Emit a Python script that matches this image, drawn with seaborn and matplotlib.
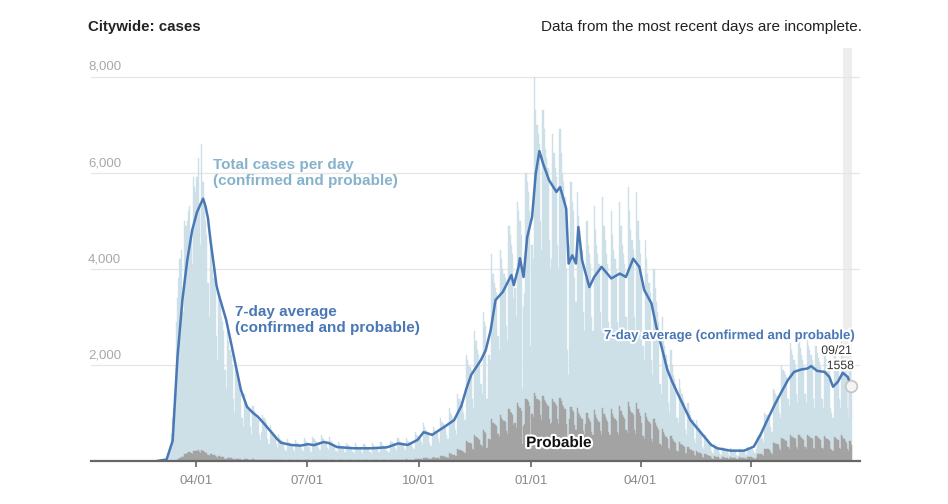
import pandas as pd
import seaborn as sns
import matplotlib
matplotlib.use("Agg")
from matplotlib import pyplot as plt
import matplotlib.dates as mdates
import matplotlib.patheffects as pe

# daily cases (confirmed + probable), one row per week, first day 2020-02-29 (Sat)
first_day = "2020-02-29"
total_cases = [
    1, 0, 1, 2, 4, 6, 12,
    25, 30, 90, 180, 330, 560, 900,
    1100, 1400, 2900, 3400, 3800, 4200, 4400,
    3500, 3100, 5000, 4900, 5000, 5200, 5300,
    4600, 4100, 5900, 5700, 5600, 5900, 6300,
    5300, 4500, 6600, 5800, 5300, 5000, 4700,
    3700, 3000, 4700, 4400, 4000, 3800, 3600,
    2600, 2100, 3500, 3300, 3000, 2900, 2700,
    1900, 1500, 2700, 2500, 2300, 2200, 2000,
    1300, 1000, 2000, 1800, 1600, 1500, 1400,
    900, 700, 1400, 1250, 1150, 1100, 1050,
    700, 550, 1150, 1050, 950, 900, 850,
    550, 430, 600, 950, 900, 850, 800,
    450, 350, 750, 650, 600, 580, 550,
    350, 280, 550, 470, 430, 420, 400,
    260, 200, 450, 400, 370, 360, 340,
    230, 180, 430, 380, 350, 340, 320,
    250, 200, 480, 420, 400, 380, 300,
    180, 180, 500, 450, 420, 400, 380,
    280, 230, 550, 480, 450, 420, 400,
    270, 220, 500, 420, 380, 360, 340,
    200, 170, 400, 350, 320, 300, 290,
    190, 160, 380, 330, 300, 290, 280,
    180, 150, 370, 320, 300, 280, 270,
    180, 150, 360, 320, 290, 280, 270,
    180, 150, 370, 330, 300, 290, 280,
    190, 160, 390, 340, 310, 300, 290,
    200, 170, 180, 420, 400, 380, 360,
    250, 210, 480, 420, 400, 380, 370,
    240, 200, 470, 420, 390, 380, 370,
    300, 260, 600, 550, 520, 500, 480,
    400, 330, 800, 700, 650, 600, 550,
    380, 320, 550, 700, 650, 600, 580,
    450, 380, 900, 820, 780, 750, 720,
    550, 450, 1100, 1000, 950, 900, 870,
    650, 550, 1400, 1300, 1250, 1200, 1150,
    1000, 850, 2200, 2100, 2000, 1950, 1900,
    1300, 1100, 2700, 2500, 2300, 2200, 2100,
    1600, 1400, 3100, 2900, 2800, 1300, 2200,
    2200, 2100, 4300, 3900, 3700, 3600, 3500,
    2600, 2300, 4400, 4200, 4000, 3900, 3800,
    2800, 2500, 4900, 4700, 4500, 4300, 3400,
    3600, 3000, 5400, 5200, 5000, 4700, 1500,
    3200, 3500, 6000, 5800, 5600, 5200, 2400,
    4500, 4200, 8000, 7300, 7000, 6800, 6600,
    5000, 4400, 7300, 6900, 6500, 6300, 6100,
    4600, 4000, 4200, 6800, 6400, 6100, 5900,
    4500, 4000, 6900, 6400, 6000, 5800, 5500,
    4000, 2300, 1800, 4500, 5800, 5400, 5200,
    3800, 3300, 5600, 5100, 4800, 4600, 4400,
    3100, 2700, 3800, 5000, 4500, 4300, 4100,
    3000, 2700, 5300, 4800, 4500, 4300, 4100,
    3100, 2700, 5500, 4900, 4600, 4300, 4100,
    2900, 2600, 5200, 4700, 4400, 4200, 4000,
    2900, 2600, 5400, 4900, 4500, 4300, 4100,
    3000, 2700, 5700, 5200, 4800, 4600, 4400,
    3000, 2600, 5600, 5000, 4600, 4300, 3700,
    2400, 2100, 4600, 4200, 3900, 3700, 3500,
    2100, 1800, 4000, 3600, 3300, 3100, 2900,
    1600, 1400, 3000, 2700, 2400, 2200, 2000,
    1200, 1000, 2300, 2000, 1800, 1700, 1600,
    900, 800, 1700, 1500, 1400, 1300, 1200,
    650, 550, 1200, 1050, 950, 900, 850,
    450, 380, 850, 750, 680, 640, 600,
    300, 250, 550, 480, 430, 400, 380,
    200, 160, 150, 350, 320, 300, 280,
    160, 130, 300, 270, 250, 230, 220,
    140, 110, 270, 240, 220, 210, 200,
    130, 110, 260, 240, 220, 210, 200,
    150, 120, 300, 280, 270, 260, 250,
    200, 170, 250, 500, 520, 550, 560,
    450, 380, 1000, 950, 950, 920, 900,
    700, 600, 1500, 1450, 1400, 1350, 1300,
    1000, 900, 2000, 1900, 1850, 1800, 1750,
    1300, 1150, 2450, 2300, 2200, 2100, 2000,
    1400, 1200, 2500, 2350, 2200, 2100, 2000,
    1400, 1200, 2550, 2400, 2300, 2200, 2100,
    1300, 1100, 2400, 2250, 2150, 2050, 1950,
    1300, 1100, 2400, 2200, 2100, 2000, 1900,
    1100, 1000, 900, 2300, 2200, 2100, 2000,
    1300, 1100, 2500, 2300, 2100, 1900, 1700,
    1100, 900, 1900, 1500,
]

probable_cases = [
    0, 0, 0, 0, 0, 0, 0,
    0, 0, 0, 1, 2, 3, 5,
    8, 10, 20, 30, 40, 60, 80,
    90, 90, 140, 150, 160, 180, 190,
    170, 150, 210, 200, 200, 210, 220,
    190, 160, 220, 200, 180, 170, 160,
    120, 100, 150, 140, 130, 120, 110,
    80, 60, 100, 90, 85, 80, 75,
    50, 40, 70, 65, 60, 55, 50,
    35, 30, 50, 45, 40, 38, 35,
    25, 20, 40, 35, 32, 30, 28,
    20, 15, 32, 30, 28, 26, 25,
    15, 12, 18, 28, 26, 24, 22,
    14, 11, 22, 20, 18, 17, 16,
    12, 10, 22, 20, 18, 17, 16,
    10, 8, 20, 18, 16, 15, 14,
    10, 8, 18, 16, 15, 14, 13,
    10, 8, 20, 18, 16, 15, 12,
    8, 8, 20, 18, 16, 15, 14,
    12, 10, 22, 20, 18, 17, 16,
    11, 9, 20, 18, 16, 15, 14,
    9, 8, 18, 16, 15, 14, 13,
    9, 8, 18, 16, 15, 14, 13,
    9, 8, 18, 16, 15, 14, 13,
    9, 8, 18, 16, 15, 14, 13,
    10, 8, 20, 18, 16, 15, 14,
    10, 9, 22, 20, 18, 17, 16,
    12, 10, 10, 26, 24, 22, 20,
    15, 12, 30, 27, 25, 24, 23,
    16, 13, 32, 28, 26, 25, 24,
    20, 18, 40, 38, 36, 35, 34,
    35, 30, 70, 65, 60, 55, 50,
    40, 35, 60, 75, 70, 65, 60,
    60, 50, 110, 100, 95, 90, 85,
    80, 70, 160, 150, 140, 135, 130,
    110, 95, 240, 230, 220, 210, 200,
    190, 160, 420, 400, 380, 370, 360,
    260, 220, 540, 500, 470, 450, 430,
    330, 290, 640, 600, 580, 280, 450,
    450, 430, 880, 800, 760, 740, 720,
    560, 500, 950, 900, 860, 840, 820,
    620, 560, 1080, 1030, 990, 950, 750,
    800, 680, 1200, 1150, 1100, 1050, 350,
    720, 780, 1300, 1260, 1220, 1150, 550,
    980, 920, 1420, 1350, 1300, 1280, 1250,
    950, 850, 1350, 1280, 1220, 1180, 1150,
    880, 780, 800, 1300, 1230, 1180, 1140,
    870, 780, 1320, 1240, 1170, 1130, 1080,
    780, 460, 360, 880, 1130, 1060, 1020,
    750, 650, 1100, 1000, 950, 910, 870,
    620, 540, 760, 1000, 900, 860, 820,
    600, 540, 1060, 960, 900, 860, 820,
    620, 540, 1100, 980, 920, 860, 820,
    600, 540, 1080, 980, 920, 880, 840,
    610, 550, 1140, 1040, 960, 910, 870,
    640, 580, 1220, 1120, 1040, 990, 950,
    650, 560, 1200, 1080, 990, 930, 800,
    520, 460, 1000, 920, 850, 810, 770,
    460, 400, 880, 790, 730, 690, 650,
    360, 310, 670, 600, 540, 500, 460,
    280, 230, 530, 460, 420, 390, 370,
    210, 190, 400, 350, 330, 310, 290,
    160, 140, 290, 260, 235, 220, 210,
    115, 100, 210, 185, 170, 160, 150,
    80, 65, 140, 125, 115, 105, 100,
    55, 45, 40, 95, 88, 82, 78,
    45, 38, 85, 78, 72, 68, 65,
    40, 32, 78, 70, 65, 62, 60,
    38, 32, 76, 70, 65, 62, 60,
    42, 35, 85, 80, 78, 75, 72,
    55, 48, 70, 140, 145, 150, 155,
    120, 100, 260, 250, 250, 240, 235,
    180, 155, 380, 370, 355, 345, 330,
    240, 215, 470, 450, 440, 425, 415,
    290, 260, 540, 510, 490, 470, 450,
    300, 260, 540, 510, 480, 460, 440,
    300, 260, 550, 520, 500, 480, 460,
    280, 240, 520, 490, 470, 450, 430,
    280, 240, 520, 480, 460, 440, 420,
    240, 220, 200, 500, 480, 460, 440,
    280, 240, 540, 500, 460, 420, 380,
    240, 200, 420, 330,
]

# 7-day average
avg_dates = [
    "2020-02-29", "2020-03-08", "2020-03-13", "2020-03-17", "2020-03-21", "2020-03-25",
    "2020-03-29", "2020-04-02", "2020-04-05", "2020-04-07", "2020-04-09", "2020-04-11",
    "2020-04-13", "2020-04-16", "2020-04-18", "2020-04-20", "2020-04-26", "2020-04-30",
    "2020-05-04", "2020-05-08", "2020-05-13", "2020-05-18", "2020-05-22", "2020-05-28",
    "2020-06-02", "2020-06-07", "2020-06-10", "2020-06-18", "2020-06-26", "2020-07-02",
    "2020-07-07", "2020-07-15", "2020-07-19", "2020-07-26", "2020-08-09", "2020-08-23",
    "2020-09-05", "2020-09-14", "2020-09-22", "2020-09-30", "2020-10-05", "2020-10-12",
    "2020-10-22", "2020-10-30", "2020-11-05", "2020-11-09", "2020-11-13", "2020-11-21",
    "2020-11-25", "2020-11-29", "2020-12-03", "2020-12-09", "2020-12-16", "2020-12-18",
    "2020-12-22", "2020-12-23", "2020-12-26", "2020-12-29", "2021-01-02", "2021-01-05",
    "2021-01-08", "2021-01-11", "2021-01-16", "2021-01-22", "2021-01-25", "2021-01-30",
    "2021-02-01", "2021-02-04", "2021-02-07", "2021-02-09", "2021-02-12", "2021-02-18",
    "2021-02-22", "2021-02-28", "2021-03-08", "2021-03-15", "2021-03-20", "2021-03-26",
    "2021-03-31", "2021-04-04", "2021-04-10", "2021-04-14", "2021-04-18", "2021-04-23",
    "2021-04-27", "2021-05-04", "2021-05-12", "2021-05-21", "2021-05-29", "2021-06-03",
    "2021-06-14", "2021-06-25", "2021-07-03", "2021-07-09", "2021-07-14", "2021-07-20",
    "2021-07-25", "2021-07-31", "2021-08-05", "2021-08-11", "2021-08-16", "2021-08-19",
    "2021-08-24", "2021-08-30", "2021-09-03", "2021-09-06", "2021-09-10", "2021-09-14",
    "2021-09-18", "2021-09-21",
]
avg_values = [
    0, 30, 420, 2170, 3350, 4180,
    4800, 5180, 5350, 5460, 5300, 5050,
    4600, 4040, 3650, 3450, 2930, 2450,
    1960, 1480, 1130, 1000, 920, 750,
    600, 450, 380, 335, 320, 350,
    330, 395, 375, 290, 265, 265,
    285, 365, 335, 440, 600, 545,
    710, 850, 1150, 1500, 1790, 2100,
    2310, 2720, 3350, 3520, 3870, 3660,
    4050, 4220, 3830, 4660, 5080, 5980,
    6450, 6190, 5840, 5600, 5700, 5250,
    4110, 4280, 4110, 4870, 4180, 3620,
    3830, 4040, 3800, 3900, 3830, 4210,
    4040, 3560, 3280, 2790, 2400, 1900,
    1650, 1270, 850, 575, 335, 265,
    215, 215, 300, 575, 850, 1165,
    1405, 1685, 1855, 1905, 1925, 1975,
    1875, 1855, 1750, 1545, 1650, 1835,
    1750, 1558,
]

y_ticks = [2000, 4000, 6000, 8000]
x_ticks = ["2020-04-01", "2020-07-01", "2020-10-01", "2021-01-01", "2021-04-01", "2021-07-01"]

BAR_BLUE = "#cddfe7"
PROB_GRAY = "#a3a3a3"
LINE_BLUE = "#4a78b5"
LABEL_BLUE = "#86b3cb"


def xd(day):
    return mdates.date2num(pd.Timestamp(day))


def make_plot():
    sns.set_style("white")
    plt.rcParams["font.family"] = ["Liberation Sans", "DejaVu Sans"]

    days = pd.date_range(first_day, periods=len(total_cases), freq="D")
    daily = pd.DataFrame({
        "day": mdates.date2num(days),
        "total": total_cases,
        "probable": probable_cases,
    })
    avg = pd.DataFrame({
        "day": [xd(d) for d in avg_dates],
        "cases": avg_values,
    })

    fig = plt.figure(figsize=(9.48, 5.04), dpi=100)
    ax = fig.add_axes([0.096, 0.0853, 0.811, 0.819])

    # recent (incomplete) days
    ax.axvspan(xd("2021-09-14"), xd("2021-09-21") + 0.5, color="#ededed", lw=0, zorder=0)
    for v in y_ticks:
        ax.axhline(v, color="#e6e6e6", lw=0.9, zorder=0.5)

    # edge in the fill colour closes the antialiasing seams between daily bars
    sns.histplot(data=daily, x="day", weights="total", discrete=True, color=BAR_BLUE,
                 alpha=1, edgecolor=BAR_BLUE, linewidth=0.3, ax=ax, zorder=1)
    sns.histplot(data=daily, x="day", weights="probable", discrete=True, color=PROB_GRAY,
                 alpha=1, edgecolor=PROB_GRAY, linewidth=0.3, ax=ax, zorder=2)
    sns.lineplot(data=avg, x="day", y="cases", color=LINE_BLUE, linewidth=1.8, ax=ax, zorder=3)
    ax.scatter([avg["day"].iloc[-1]], [avg["cases"].iloc[-1]], s=70, facecolor="#f4f4f4",
               edgecolor="#c4c4c4", linewidth=1.2, zorder=4)

    ax.set_xlim(xd("2020-01-06"), xd("2021-09-28"))
    ax.set_ylim(0, 8590)
    ax.set_xlabel("")
    ax.set_ylabel("")
    ax.set_yticks([])
    ax.set_xticks([xd(d) for d in x_ticks])
    ax.xaxis.set_major_formatter(mdates.DateFormatter("%m/%d"))
    ax.tick_params(axis="x", bottom=True, length=4, width=1.1, color="#555555",
                   labelcolor="#8a8a8a", labelsize=9.5, pad=6)
    for side in ["left", "right", "top"]:
        ax.spines[side].set_visible(False)
    ax.spines["bottom"].set_color("#666666")
    ax.spines["bottom"].set_linewidth(1.6)
    ax.spines["bottom"].set_zorder(5)

    for v in y_ticks:
        ax.text(-0.004, v + 200, f"{v:,}", transform=ax.get_yaxis_transform(), ha="left",
                va="center", color="#a8a8a8", fontsize=9.5)

    halo = [pe.withStroke(linewidth=3, foreground="white")]
    ax.text(xd("2020-04-15"), 5990, "Total cases per day\n(confirmed and probable)",
            color=LABEL_BLUE, fontweight="bold", fontsize=11, va="center", linespacing=1.2)
    ax.text(xd("2020-05-03"), 2940, "7-day average\n(confirmed and probable)",
            color=LINE_BLUE, fontweight="bold", fontsize=11, va="center", linespacing=1.2)
    ax.text(xd("2021-03-02"), 2600, "7-day average (confirmed and probable)",
            color=LINE_BLUE, fontweight="bold", fontsize=9.5, va="center", path_effects=halo,
            zorder=6)
    ax.text(xd("2021-09-21") + 0.5, 2290, "09/21", color="#333333", fontsize=8.8,
            ha="right", va="center", path_effects=halo, zorder=6)
    ax.text(xd("2021-09-23"), 1975, f"{avg_values[-1]}", color="#333333", fontsize=8.8,
            ha="right", va="center", path_effects=halo, zorder=6)
    ax.text(xd("2021-01-24"), 374, "Probable", color="#111111", fontweight="bold",
            fontsize=11, ha="center", va="center", path_effects=halo, zorder=6)

    fig.text(88 / 948, 1 - 27 / 504, "Citywide: cases", fontweight="bold", fontsize=10.8,
             color="#222222", va="center", ha="left")
    fig.text(862 / 948, 1 - 27 / 504, "Data from the most recent days are incomplete.",
             fontsize=11, color="#222222", va="center", ha="right")

    fig.savefig("out.png", dpi=100, facecolor="white")


if __name__ == "__main__":
    make_plot()
